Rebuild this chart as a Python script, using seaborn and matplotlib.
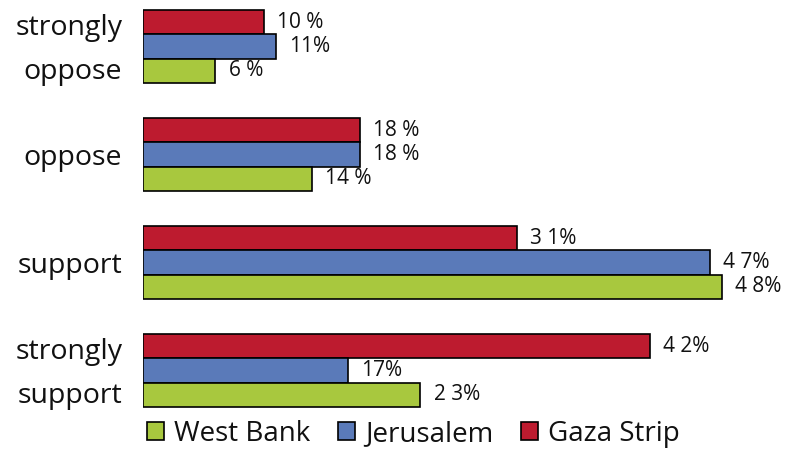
import matplotlib
matplotlib.use("Agg")
import matplotlib.pyplot as plt
import matplotlib.transforms as mtransforms
import seaborn as sns
import pandas as pd
from matplotlib.patches import Patch

categories = ["strongly\noppose", "oppose", "support", "strongly\nsupport"]
regions = ["West Bank", "Jerusalem", "Gaza Strip"]
west_bank = [6, 14, 48, 23]
jerusalem = [11, 18, 47, 17]
gaza = [10, 18, 31, 42]
labels_west_bank = ["6 %", "14 %", "4 8%", "2 3%"]
labels_jerusalem = ["11%", "18 %", "4 7%", "17%"]
labels_gaza = ["10 %", "18 %", "3 1%", "4 2%"]
colors = {"West Bank": "#A8C83E", "Jerusalem": "#5A7AB9", "Gaza Strip": "#BD1B2F"}

rows = []
for reg, vals in zip(regions, [west_bank, jerusalem, gaza]):
    for c, v in zip(categories, vals):
        rows.append({"category": c, "region": reg, "value": v})
df = pd.DataFrame(rows)

sns.set_theme(style="white")
plt.rcParams["font.family"] = ["Open Sans", "DejaVu Sans"]

fig = plt.figure(figsize=(7.91, 4.49), dpi=100)
ax = fig.add_axes([143 / 791, 1 - 415 / 449, 640 / 791, 415 / 449])

draw_order = ["Gaza Strip", "Jerusalem", "West Bank"]
sns.barplot(data=df, y="category", x="value", hue="region", hue_order=draw_order,
            order=categories, palette=colors, orient="h", width=0.68,
            edgecolor="black", linewidth=1.2, legend=False, ax=ax, saturation=1)

label_map = {"Gaza Strip": labels_gaza, "Jerusalem": labels_jerusalem, "West Bank": labels_west_bank}
for cont, reg in zip(ax.containers, draw_order):
    ax.bar_label(cont, labels=label_map[reg], padding=9.5, fontsize=15, color="#111111")

ax.set_xlim(0, 640 / 12.06)
ax.set_ylim((415 - 46.5) / 108, -46.5 / 108)
ax.set_xlabel("")
ax.set_ylabel("")
ax.set_xticks([])
ax.tick_params(axis="y", length=0, pad=15, labelsize=20.5, labelcolor="#111111")
shift_up = mtransforms.ScaledTranslation(0, 0.08, fig.dpi_scale_trans)
for lbl in ax.get_yticklabels():
    lbl.set_multialignment("right")
    lbl.set_linespacing(1.75)
    if "\n" in lbl.get_text():
        lbl.set_transform(lbl.get_transform() + shift_up)
sns.despine(ax=ax, left=True, bottom=True)

handles = [Patch(facecolor=colors[r], edgecolor="black", linewidth=1.2, label=r) for r in regions]
fig.legend(handles=handles, loc="lower left", bbox_to_anchor=(136 / 791, -0.022), ncol=3,
           frameon=False, fontsize=20, handlelength=0.62, handleheight=0.62,
           handletextpad=0.35, columnspacing=1.0, borderaxespad=0, labelcolor="#111111")

fig.savefig("out.png", dpi=100)
